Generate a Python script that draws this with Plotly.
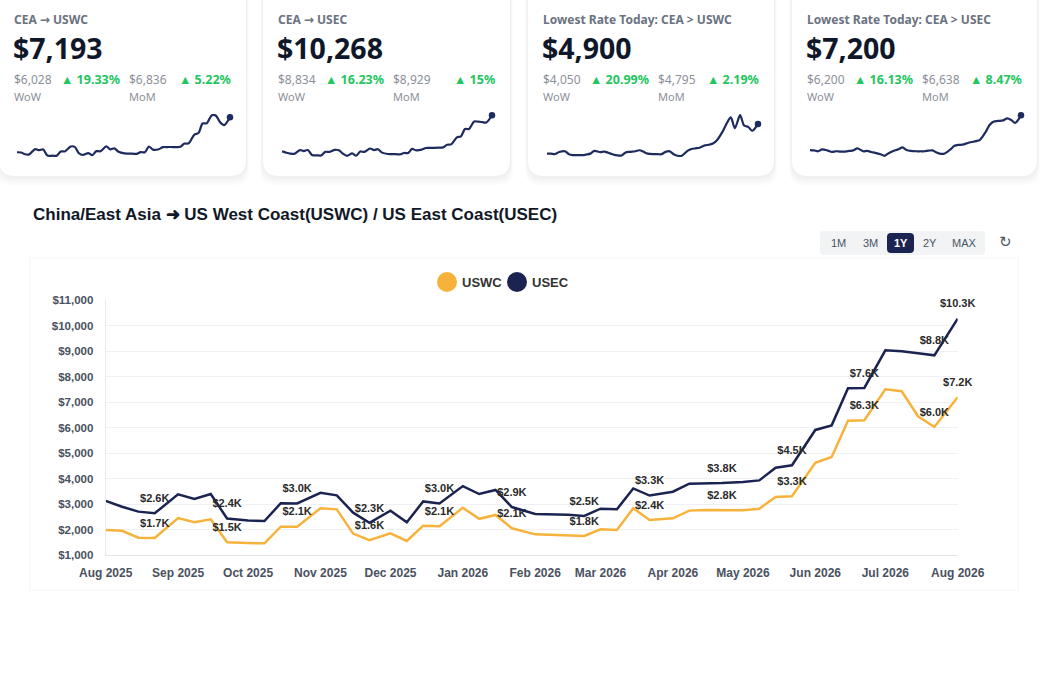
import plotly.graph_objects as go

W, H = 1045, 678

# weekly sample dates (1st, 8th, 15th, 22nd of each month)
months = ["2025-08", "2025-09", "2025-10", "2025-11", "2025-12", "2026-01",
          "2026-02", "2026-03", "2026-04", "2026-05", "2026-06", "2026-07"]
days = ["01", "08", "15", "22"]
dates = [f"{m}-{d}" for m in months for d in days] + ["2026-08-01"]

uswc = [1990, 1960, 1690, 1680, 2460, 2300, 2410, 1510,
        1480, 1470, 2120, 2120, 2840, 2800, 1850, 1590,
        1860, 1560, 2160, 2140, 2860, 2430, 2580, 2060,
        1820, 1800, 1780, 1760, 2020, 1990, 2840, 2380,
        2450, 2750, 2770, 2775, 2765, 2825, 3285, 3310,
        4625, 4850, 6270, 6290, 7500, 7425, 6445, 6028, 7193]

usec = [3130, 2900, 2710, 2645, 3390, 3205, 3400, 2440,
        2360, 2340, 3040, 3030, 3450, 3350, 2670, 2270,
        2750, 2290, 3110, 3030, 3710, 3400, 3560, 2890,
        2620, 2610, 2590, 2540, 2825, 2800, 3620, 3340,
        3490, 3805, 3815, 3830, 3870, 3935, 4430, 4525,
        5910, 6090, 7540, 7555, 9030, 8990, 8910, 8834, 10268]

lowest_uswc = [1200, 1200, 1150, 1400, 1500, 1130, 1010, 1010,
               1010, 1090, 1200, 1540, 1380, 1460, 1300, 1130,
               970, 970, 1340, 1420, 1500, 1620, 1420, 1200,
               1130, 1130, 1130, 1420, 1500, 1130, 930, 930,
               1540, 1780, 1860, 1940, 2230, 2310, 2470, 2880,
               3970, 4980, 5710, 4370, 5990, 4700, 4540, 4050, 4900]

lowest_usec = [2650, 2610, 2490, 2740, 2570, 2400, 2490, 2450,
               2450, 2530, 2610, 2860, 2490, 2530, 2400, 2280,
               2110, 1900, 2240, 2490, 2740, 2990, 2650, 2530,
               2490, 2490, 2490, 2570, 2610, 2320, 2150, 2200,
               2740, 3200, 3320, 3360, 3570, 3700, 3820, 3990,
               5030, 5950, 6370, 6450, 6530, 6780, 6580, 6200, 7200]

card_titles = ["CEA → USWC", "CEA → USEC",
               "Lowest Rate Today: CEA > USWC", "Lowest Rate Today: CEA > USEC"]
card_values = ["$7,193", "$10,268", "$4,900", "$7,200"]
card_wow_prev = ["$6,028", "$8,834", "$4,050", "$6,200"]
card_wow_pct = ["19.33%", "16.23%", "20.99%", "16.13%"]
card_mom_prev = ["$6,836", "$8,929", "$4,795", "$6,638"]
card_mom_pct = ["5.22%", "15%", "2.19%", "8.47%"]
card_series = [uswc, usec, lowest_uswc, lowest_usec]

ranges = ["1M", "3M", "1Y", "2Y", "MAX"]

ORANGE = "#F7B23B"
NAVY = "#1B2450"
SPARK = "#1E2B5E"
GREEN = "#22C55E"
UI_FONT = "Noto Sans"
CHART_FONT = "Liberation Sans"


def X(x):
    return x / W


def Y(y):
    return 1 - y / H


def rrect(x0, y0, x1, y1, r):
    return (f"M {X(x0 + r)},{Y(y0)} L {X(x1 - r)},{Y(y0)} Q {X(x1)},{Y(y0)} {X(x1)},{Y(y0 + r)} "
            f"L {X(x1)},{Y(y1 - r)} Q {X(x1)},{Y(y1)} {X(x1 - r)},{Y(y1)} "
            f"L {X(x0 + r)},{Y(y1)} Q {X(x0)},{Y(y1)} {X(x0)},{Y(y1 - r)} "
            f"L {X(x0)},{Y(y0 + r)} Q {X(x0)},{Y(y0)} {X(x0 + r)},{Y(y0)} Z")


def label_text(vals):
    out = []
    for i, v in enumerate(vals):
        if i % 4 == 3 or i == len(vals) - 1:
            out.append(f"${v / 1000:.1f}K")
        else:
            out.append("")
    return out


fig = go.Figure()
shapes = []
annotations = []

# ---- KPI cards ----
card_x = [(-1, 246), (263, 510), (528, 774), (792, 1037)]
spark_x = [(17, 230), (282, 492), (547, 758), (810, 1021)]

for i, (x0, x1) in enumerate(card_x):
    for k, a in enumerate([0.015, 0.02, 0.025]):
        off = 3 * (3 - k)
        shapes.append(dict(type="path", xref="paper", yref="paper",
                           path=rrect(x0 - off / 3, -20, x1 + off / 3, 176 + off, 16),
                           fillcolor=f"rgba(0,0,0,{a})", line_width=0, layer="below"))
    shapes.append(dict(type="path", xref="paper", yref="paper",
                       path=rrect(x0, -20, x1, 176, 16),
                       fillcolor="white", line_width=0, layer="below"))

    title = card_titles[i].replace("→", '<span style="font-family:DejaVu Sans">→</span>')
    annotations += [
        dict(x=X(x0 + 13), y=Y(20), text=f"<b>{title}</b>",
             font=dict(family=UI_FONT, size=12, color="#6B7280")),
        dict(x=X(x0 + 12), y=Y(48), text=f"<b>{card_values[i]}</b>",
             font=dict(family=UI_FONT, size=28.5, color="#0F172A")),
        dict(x=X(x0 + 13), y=Y(79), text=card_wow_prev[i],
             font=dict(family=UI_FONT, size=12, color="#8C9099")),
        dict(x=X(x0 + 60), y=Y(79), text=f"<b>▲ {card_wow_pct[i]}</b>",
             font=dict(family=UI_FONT, size=12.5, color=GREEN)),
        dict(x=X(x0 + 128), y=Y(79), text=card_mom_prev[i],
             font=dict(family=UI_FONT, size=12, color="#8C9099")),
        dict(x=X(x1 - 13), y=Y(79), text=f"<b>▲ {card_mom_pct[i]}</b>", xanchor="right",
             font=dict(family=UI_FONT, size=12.5, color=GREEN)),
        dict(x=X(x0 + 13), y=Y(97), text="WoW",
             font=dict(family=UI_FONT, size=11, color="#8C9099")),
        dict(x=X(x0 + 128), y=Y(97), text="MoM",
             font=dict(family=UI_FONT, size=11, color="#8C9099")),
    ]

    # sparkline
    n = i + 2
    vals = card_series[i]
    lo, hi = min(vals), max(vals)
    pad = (hi - lo) * 0.03
    sx0, sx1 = spark_x[i]
    fig.add_trace(go.Scatter(x=dates, y=vals, mode="lines",
                             line=dict(color=SPARK, width=2.2, shape="spline", smoothing=0.8),
                             xaxis=f"x{n}", yaxis=f"y{n}", hoverinfo="skip", showlegend=False))
    fig.add_trace(go.Scatter(x=dates[-1:], y=vals[-1:], mode="markers",
                             marker=dict(color=SPARK, size=6.5),
                             xaxis=f"x{n}", yaxis=f"y{n}", hoverinfo="skip",
                             showlegend=False, cliponaxis=False))
    fig.layout[f"xaxis{n}"] = dict(domain=[X(sx0), X(sx1)], visible=False, automargin=False,
                                   range=[dates[0], dates[-1]], anchor=f"y{n}")
    fig.layout[f"yaxis{n}"] = dict(domain=[Y(157), Y(114)], visible=False, automargin=False,
                                   range=[lo - pad, hi + pad], anchor=f"x{n}")

# ---- main panel ----
shapes.append(dict(type="rect", xref="paper", yref="paper",
                   x0=X(30), x1=X(1018), y0=Y(590), y1=Y(258),
                   fillcolor="white", line=dict(color="#F3F4F6", width=1), layer="below"))

annotations.append(dict(x=X(31), y=Y(214),
                        text="<b>China/East Asia ➜ US West Coast(USWC) / US East Coast(USEC)</b>",
                        font=dict(family=CHART_FONT, size=17, color="#111827")))

# range buttons
shapes.append(dict(type="path", xref="paper", yref="paper", path=rrect(820, 231, 985, 255, 4),
                   fillcolor="#F1F3F5", line_width=0, layer="below"))
shapes.append(dict(type="path", xref="paper", yref="paper", path=rrect(887, 233, 914, 253, 4),
                   fillcolor=NAVY, line_width=0, layer="below"))
for label, cx in zip(ranges, [838, 870, 900.5, 930, 964]):
    active = label == "1Y"
    annotations.append(dict(x=X(cx), y=Y(243), xanchor="center",
                            text=f"<b>{label}</b>" if active else label,
                            font=dict(family=CHART_FONT, size=11,
                                      color="white" if active else "#4B5563")))
annotations.append(dict(x=X(1005), y=Y(242), xanchor="center", text="↻",
                        font=dict(family="DejaVu Sans", size=15, color="#4B5563")))

# legend
for name, color, cx in [("USWC", ORANGE, 447), ("USEC", NAVY, 517)]:
    shapes.append(dict(type="circle", xref="paper", yref="paper",
                       x0=X(cx - 10), x1=X(cx + 10), y0=Y(292), y1=Y(272),
                       fillcolor=color, line_width=0))
    annotations.append(dict(x=X(cx + 13), y=Y(282), text=f"<b>{name}</b>",
                            font=dict(family=CHART_FONT, size=13, color="#333333")))

for name, vals, color in [("USWC", uswc, ORANGE), ("USEC", usec, NAVY)]:
    fig.add_trace(go.Scatter(
        x=dates, y=vals, name=name, mode="lines+markers+text",
        line=dict(color=color, width=2.5),
        marker=dict(size=12, opacity=0),
        text=label_text(vals), textposition="top center",
        textfont=dict(family=CHART_FONT, size=11, color="#2A2A2A", weight="bold"),
        cliponaxis=False, hoverinfo="skip", showlegend=False))

for a in annotations:
    a.setdefault("xref", "paper")
    a.setdefault("yref", "paper")
    a.setdefault("xanchor", "left")
    a.setdefault("yanchor", "middle")
    a.setdefault("showarrow", False)

fig.update_layout(
    width=W, height=H, autosize=False,
    margin=dict(l=0, r=0, t=0, b=0, pad=0, autoexpand=False),
    paper_bgcolor="white", plot_bgcolor="white",
    showlegend=False,
    shapes=shapes, annotations=annotations,
    xaxis=dict(domain=[X(105.7), X(957.7)], range=["2025-08-01", "2026-08-01"],
               type="date", dtick="M1", tickformat="%b %Y", tick0="2025-08-01",
               showgrid=False, showline=True, linecolor="#E2E4E8", linewidth=1,
               ticks="", ticklabelstandoff=6, automargin=False,
               tickfont=dict(family=CHART_FONT, size=12, color="#4A5160", weight="bold")),
    yaxis=dict(domain=[Y(555.3), Y(300)], range=[1000, 11000], dtick=1000,
               tickformat="$,.0f", showgrid=True, gridcolor="#EEF0F3", gridwidth=1,
               showline=True, linecolor="#E8EAEE", zeroline=False, ticks="",
               ticklabelstandoff=9, automargin=False,
               tickfont=dict(family=CHART_FONT, size=11.5, color="#4A5160", weight="bold")),
)

fig.write_html("out.html", config={"displayModeBar": False},
               post_script="document.body.style.margin='0';document.body.style.overflow='hidden';")
